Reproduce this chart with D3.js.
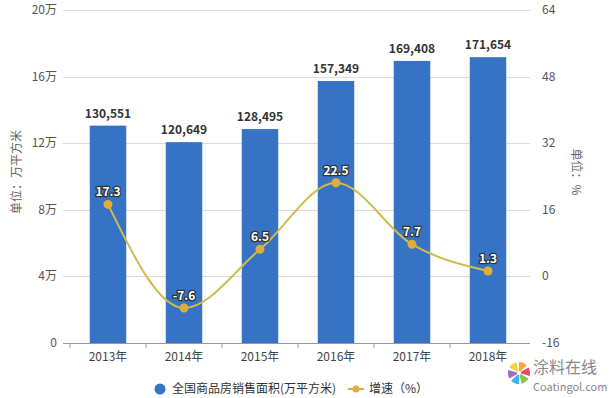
<!DOCTYPE html>
<html>
<head>
<meta charset="utf-8">
<script src="https://cdn.jsdelivr.net/npm/d3@7"></script>
<style>
  body { margin: 0; background: #fff; }
  text { font-family: "Microsoft YaHei", "Noto Sans CJK SC", sans-serif; }
</style>
</head>
<body>
<svg id="chart" width="616" height="398"></svg>
<script>
// data
var years = ["2013年", "2014年", "2015年", "2016年", "2017年", "2018年"];
var area = [130551, 120649, 128495, 157349, 169408, 171654];
var growth = [17.3, -7.6, 6.5, 22.5, 7.7, 1.3];
var leftTicks = [0, 40000, 80000, 120000, 160000, 200000];
var rightTicks = [-16, 0, 16, 32, 48, 64];

var svg = d3.select("#chart");
var plotTop = 10, plotBottom = 343, plotLeft = 70, plotRight = 526;

var x = d3.scaleBand().domain(years).range([plotLeft, plotRight]).paddingInner(0.52).paddingOuter(0.26);
var yL = d3.scaleLinear().domain([0, 200000]).range([plotBottom, plotTop]);
var yR = d3.scaleLinear().domain([-16, 64]).range([plotBottom, plotTop]);

// grid lines
svg.append("g").selectAll("line").data(leftTicks.slice(1)).enter().append("line")
  .attr("x1", 63).attr("x2", 530)
  .attr("y1", function(d){return Math.round(yL(d)) + 0.5;})
  .attr("y2", function(d){return Math.round(yL(d)) + 0.5;})
  .attr("stroke", "#dcdcdc");

// left axis labels
svg.append("g").selectAll("text").data(leftTicks).enter().append("text")
  .attr("x", 57).attr("y", function(d){return yL(d) + 4;})
  .attr("text-anchor", "end").attr("font-size", 12).attr("fill", "#555")
  .text(function(d){return d === 0 ? "0" : (d / 10000) + "万";});

// right axis labels
svg.append("g").selectAll("text").data(rightTicks).enter().append("text")
  .attr("x", 542).attr("y", function(d){return yR(d) + 4;})
  .attr("font-size", 12).attr("fill", "#555")
  .text(function(d){return d;});

// axis titles
svg.append("text").attr("transform", "translate(21,172) rotate(-90)")
  .attr("text-anchor", "middle").attr("font-size", 12).attr("fill", "#666")
  .text("单位：万平方米");
svg.append("text").attr("transform", "translate(572,172) rotate(90)")
  .attr("text-anchor", "middle").attr("font-size", 12).attr("fill", "#666")
  .text("单位：%");

// bars
svg.append("g").selectAll("rect").data(area).enter().append("rect")
  .attr("x", function(d, i){return x(years[i]);})
  .attr("y", function(d){return yL(d);})
  .attr("width", x.bandwidth())
  .attr("height", function(d){return plotBottom - yL(d);})
  .attr("fill", "#3673c4");

// bar value labels
svg.append("g").selectAll("text").data(area).enter().append("text")
  .attr("x", function(d, i){return x(years[i]) + x.bandwidth() / 2;})
  .attr("y", function(d){return yL(d) - 8;})
  .attr("text-anchor", "middle").attr("font-size", 12).attr("font-weight", "bold")
  .attr("fill", "#333")
  .text(function(d){return d3.format(",")(d);});

// x axis
svg.append("line").attr("x1", 63).attr("x2", 530)
  .attr("y1", plotBottom + 0.5).attr("y2", plotBottom + 0.5).attr("stroke", "#999");
svg.append("g").selectAll("line").data(years).enter().append("line")
  .attr("x1", function(d){return x(d) + x.bandwidth() / 2 - 38;})
  .attr("x2", function(d){return x(d) + x.bandwidth() / 2 - 38;})
  .attr("y1", plotBottom).attr("y2", plotBottom + 5).attr("stroke", "#999");
svg.append("g").selectAll("text").data(years).enter().append("text")
  .attr("x", function(d){return x(d) + x.bandwidth() / 2;})
  .attr("y", plotBottom + 18)
  .attr("text-anchor", "middle").attr("font-size", 12).attr("fill", "#444")
  .text(function(d){return d;});

// growth line
var cx = function(d, i){return x(years[i]) + x.bandwidth() / 2;};
var line = d3.line().x(cx).y(function(d){return yR(d);}).curve(d3.curveMonotoneX);
svg.append("path").datum(growth).attr("d", line)
  .attr("fill", "none").attr("stroke", "#cfbb4e").attr("stroke-width", 2);
svg.append("g").selectAll("circle").data(growth).enter().append("circle")
  .attr("cx", cx).attr("cy", function(d){return yR(d);}).attr("r", 4.5)
  .attr("fill", "#dcae3a");
svg.append("g").selectAll("text").data(growth).enter().append("text")
  .attr("x", cx).attr("y", function(d){return yR(d) - 8;})
  .attr("text-anchor", "middle").attr("font-size", 12).attr("font-weight", "bold")
  .attr("fill", "#fff").attr("stroke", "#333").attr("stroke-width", 2.5)
  .attr("paint-order", "stroke")
  .text(function(d){return d;});

// legend
svg.append("circle").attr("cx", 160).attr("cy", 389).attr("r", 5.5).attr("fill", "#3673c4");
svg.append("text").attr("x", 172).attr("y", 393).attr("font-size", 12).attr("fill", "#333")
  .text("全国商品房销售面积(万平方米)");
svg.append("line").attr("x1", 348).attr("x2", 364).attr("y1", 389).attr("y2", 389)
  .attr("stroke", "#dcae3a").attr("stroke-width", 2);
svg.append("circle").attr("cx", 356).attr("cy", 389).attr("r", 3.5).attr("fill", "#dcae3a");
svg.append("text").attr("x", 369).attr("y", 393).attr("font-size", 12).attr("fill", "#333")
  .text("增速（%）");

// logo
var logoColors = ["#f7a93b", "#e84a6f", "#8bc34a", "#3db6e8", "#a36ad0", "#f5d33c"];
var logo = svg.append("g").attr("transform", "translate(519,373)");
logo.selectAll("path").data(logoColors).enter().append("path")
  .attr("d", d3.arc().innerRadius(2).outerRadius(11).startAngle(function(d, i){return i * Math.PI / 3;}).endAngle(function(d, i){return i * Math.PI / 3 + 0.8;}))
  .attr("fill", function(d){return d;});
svg.append("text").attr("x", 533).attr("y", 373).attr("font-size", 16).attr("fill", "#888").text("涂料在线");
svg.append("text").attr("x", 533).attr("y", 391).attr("font-size", 11).attr("fill", "#888").text("Coatingol.com");
</script>
</body>
</html>
